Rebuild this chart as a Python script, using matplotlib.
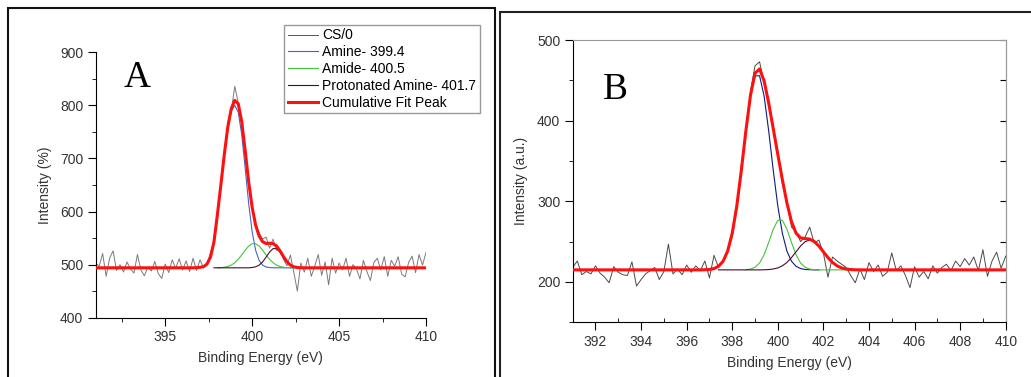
import matplotlib
matplotlib.use("Agg")
import matplotlib.pyplot as plt
from matplotlib.patches import Rectangle
from matplotlib.ticker import MultipleLocator
import numpy as np

plt.rcParams['font.family'] = ['Liberation Sans', 'DejaVu Sans']

# N 1s spectra, 0.2 eV step from 391.0 to 410.0 eV
energy = np.round(391.0 + 0.2 * np.arange(96), 1)

# ---- sample A (CS/0) ----
raw_a = [503, 497, 521, 478, 512, 526, 489, 500, 486, 505,
         492, 484, 519, 490, 479, 495, 488, 506, 483, 474,
         501, 485, 509, 493, 511, 490, 507, 487, 512, 489,
         509, 494, 500, 522, 545, 592, 652, 705, 768, 790,
         836, 805, 772, 712, 660, 605, 577, 560, 548, 552,
         531, 548, 527, 529, 510, 498, 518, 485, 450, 503,
         486, 512, 478, 497, 519, 480, 505, 462, 512, 484,
         503, 490, 512, 478, 500, 492, 473, 508, 487, 470,
         504, 512, 490, 515, 478, 508, 497, 515, 482, 477,
         504, 516, 485, 519, 499, 523]
base_a = 494
# fitted components (height above baseline): first energy + values
amine_a_start = 396.6
amine_a = [0, 0.3, 1, 2, 7, 20, 48, 100, 156, 213, 263, 295, 306,
           293, 251, 187, 121, 68, 33, 14, 5, 1.5, 0.5, 0.1,
           0, 0, 0, 0, 0, 0, 0]
amide_a_start = 398.0
amide_a = [0.1, 0.4, 1.1, 2.5, 5.1, 9.5, 16.1, 24.3, 33.2, 40.9, 45.4,
           45.4, 40.9, 33.2, 24.3, 16.1, 9.5, 5.1, 2.5, 1.1, 0.4, 0.1, 0]
prot_a_start = 397.8
prot_a = [0, 0, 0, 0, 0, 0, 0, 0, 0, 0, 0,
          0.6, 1.9, 5.0, 11.0, 20.0, 29.6, 36.1,
          36.1, 29.6, 20.0, 11.0, 5.0, 1.9, 0.6, 0.1]

# ---- sample B ----
raw_b = [218, 226, 209, 213, 210, 220, 211, 206, 199, 219,
         212, 209, 208, 225, 195, 203, 210, 214, 218, 203,
         213, 247, 210, 216, 209, 221, 212, 220, 214, 226,
         205, 233, 218, 226, 240, 256, 290, 345, 384, 436,
         468, 473, 447, 425, 388, 362, 322, 300, 268, 262,
         250, 256, 268, 248, 252, 236, 206, 231, 226, 222,
         218, 208, 199, 216, 203, 224, 213, 221, 207, 212,
         236, 214, 220, 208, 193, 219, 206, 213, 204, 220,
         211, 218, 222, 214, 226, 219, 229, 221, 231, 214,
         240, 207, 226, 237, 217, 232]
base_b = 215
amine_b_start = 396.8
amine_b = [0.2, 0.5, 1.6, 4.4, 10.7, 23.3, 45.4, 79.2, 123.5, 172.4, 215.3, 240.6,
           240.6, 215.3, 172.4, 123.5, 79.2, 45.4, 23.3, 10.7, 4.4, 1.6, 0.5, 0.2,
           0, 0]
amide_b_start = 398.6
amide_b = [0.2, 1.0, 3.2, 8.5, 18.8, 34.0, 50.5, 61.5,
           61.5, 50.5, 34.0, 18.8, 8.5, 3.2, 1.0, 0.2,
           0, 0, 0, 0, 0, 0, 0, 0]
prot_b_start = 397.4
prot_b = [0, 0, 0, 0, 0, 0, 0, 0, 0, 0,
          0.1, 0.4, 1.1, 2.4, 5.0, 9.2, 15.2, 22.4, 29.6, 35.0, 37.0,
          35.0, 29.6, 22.4, 15.2, 9.2, 5.0, 2.4, 1.1, 0.4, 0.1]

labels = ['CS/0', 'Amine- 399.4', 'Amide- 400.5',
          'Protonated Amine- 401.7', 'Cumulative Fit Peak']

W, H = 1031, 377


def comp_x(start, vals):
    return np.round(start + 0.2 * np.arange(len(vals)), 1)


def on_grid(start, vals):
    out = np.zeros(len(energy))
    i = int(round((start - energy[0]) / 0.2))
    out[i:i + len(vals)] = vals
    return out


def draw_panel(ax, raw, base, comps, colors, raw_color):
    ax.plot(energy, raw, color=raw_color, lw=0.7, zorder=2)
    total = np.full(len(energy), float(base))
    lines = []
    for (start, vals), c in zip(comps, colors):
        ln, = ax.plot(comp_x(start, vals), base + np.array(vals), color=c, lw=0.8, zorder=3)
        lines.append(ln)
        total += on_grid(start, vals)
    fit, = ax.plot(energy, total, color='#ff1010', lw=2.2, zorder=4)
    return lines, fit


fig = plt.figure(figsize=(W / 100, H / 100), dpi=100)

# panel frames
fig.add_artist(Rectangle((8 / W, -0.05), 487 / W, 369 / H + 0.05, transform=fig.transFigure,
                         fill=False, ec='#111111', lw=1.5))
fig.add_artist(Rectangle((500 / W, -0.05), 0.6, 365 / H + 0.05, transform=fig.transFigure,
                         fill=False, ec='#222222', lw=1.5, clip_on=False))

tick_kw = dict(labelsize=10, labelcolor='#333333', width=0.8)

# ---- panel A ----
axA = fig.add_axes([95.7 / W, 1 - 317.7 / H, 330.3 / W, 265.4 / H])
comp_lines, fitA = draw_panel(axA, raw_a, base_a,
                              [(amine_a_start, amine_a), (amide_a_start, amide_a), (prot_a_start, prot_a)],
                              ['#4466c4', '#44c43a', '#4a0a30'], '#7a7a7a')
axA.set_xlim(391, 410)
axA.set_ylim(400, 900)
axA.xaxis.set_major_locator(MultipleLocator(5))
axA.xaxis.set_minor_locator(MultipleLocator(2.5))
axA.yaxis.set_major_locator(MultipleLocator(100))
axA.yaxis.set_minor_locator(MultipleLocator(50))
axA.spines[['top', 'right']].set_visible(False)
axA.tick_params(which='major', direction='out', length=6, pad=3, **tick_kw)
axA.tick_params(which='minor', direction='out', length=3, width=0.6)
axA.set_xlabel('Binding Energy (eV)', fontsize=10, color='#333333', labelpad=5)
axA.set_ylabel('Intensity (%)', fontsize=10, color='#333333', labelpad=6)
axA.text(0.085, 0.87, 'A', transform=axA.transAxes, fontsize=27,
         family='Liberation Serif', color='black')

handles = [plt.Line2D([], [], color='#555555', lw=0.7)] + comp_lines + [fitA]
fig.legend(handles, labels, loc='upper left', bbox_to_anchor=(284.3 / W, 1 - 25 / H),
           bbox_transform=fig.transFigure, fontsize=10, frameon=True, fancybox=False,
           edgecolor='#999999', framealpha=1, borderpad=0.25, borderaxespad=0,
           handlelength=2.2, handletextpad=0.3, labelspacing=0.2)

# ---- panel B ----
axB = fig.add_axes([572.7 / W, 1 - 322.3 / H, 433 / W, 282.3 / H])
draw_panel(axB, raw_b, base_b,
           [(amine_b_start, amine_b), (amide_b_start, amide_b), (prot_b_start, prot_b)],
           ['#101a80', '#44c43a', '#4a0a30'], '#4a4a4a')
axB.set_xlim(391, 410)
axB.set_ylim(150, 500)
axB.xaxis.set_major_locator(MultipleLocator(2))
axB.xaxis.set_minor_locator(MultipleLocator(1))
axB.yaxis.set_major_locator(MultipleLocator(100))
axB.yaxis.set_minor_locator(MultipleLocator(50))
axB.spines[['top', 'right']].set_color('#999999')
axB.tick_params(which='major', direction='out', length=6, pad=3, **tick_kw)
axB.tick_params(which='minor', axis='x', direction='in', length=3, width=0.6)
axB.tick_params(which='minor', axis='y', direction='out', length=3, width=0.6)
sec = axB.secondary_yaxis('right')
sec.set_yticks(np.arange(200, 501, 50))
sec.tick_params(direction='in', length=4, labelright=False, width=0.8)
sec.spines['right'].set_color('#999999')
axB.set_xlabel('Binding Energy (eV)', fontsize=10, color='#333333', labelpad=5)
axB.set_ylabel('Intensity (a.u.)', fontsize=10, color='#333333', labelpad=6)
axB.text(0.07, 0.79, 'B', transform=axB.transAxes, fontsize=27,
         family='Liberation Serif', color='black')

fig.savefig('out.png', dpi=100)
